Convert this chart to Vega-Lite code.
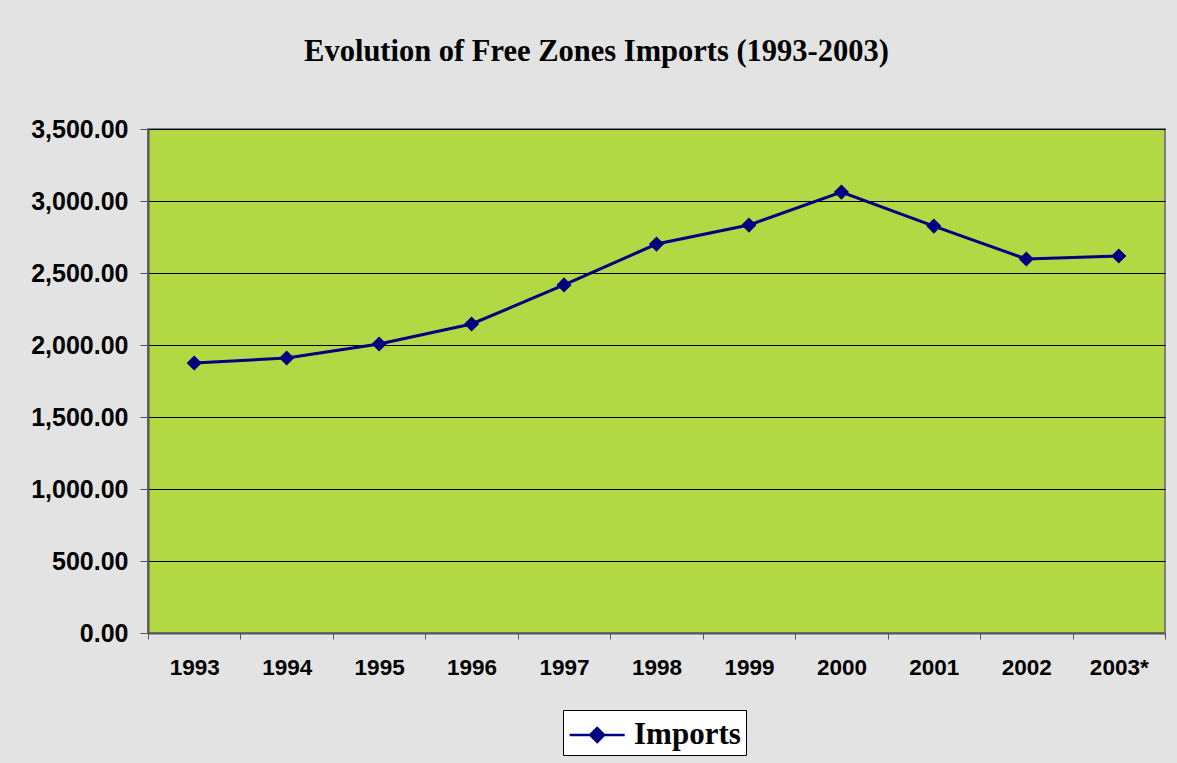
{
  "$schema": "https://vega.github.io/schema/vega-lite/v6.json",
  "autosize": "none",
  "width": 1017,
  "height": 504,
  "padding": {"left": 148, "top": 129, "right": 12, "bottom": 130},
  "background": "#e3e3e3",
  "title": {
    "text": "Evolution of Free Zones Imports (1993-2003)",
    "font": "Liberation Serif",
    "fontSize": 30.5,
    "fontWeight": "bold",
    "color": "#000000",
    "anchor": "middle",
    "dx": -60,
    "offset": 50
  },
  "data": {
    "values": [
      {"year": "1993", "value": 1875, "series": "Imports"},
      {"year": "1994", "value": 1910, "series": "Imports"},
      {"year": "1995", "value": 2007, "series": "Imports"},
      {"year": "1996", "value": 2146, "series": "Imports"},
      {"year": "1997", "value": 2417, "series": "Imports"},
      {"year": "1998", "value": 2701, "series": "Imports"},
      {"year": "1999", "value": 2833, "series": "Imports"},
      {"year": "2000", "value": 3062, "series": "Imports"},
      {"year": "2001", "value": 2826, "series": "Imports"},
      {"year": "2002", "value": 2597, "series": "Imports"},
      {"year": "2003*", "value": 2618, "series": "Imports"}
    ]
  },
  "mark": {
    "type": "line",
    "strokeWidth": 3,
    "point": {"shape": "diamond", "size": 230, "filled": true, "opacity": 1}
  },
  "encoding": {
    "x": {
      "field": "year",
      "type": "ordinal",
      "sort": null,
      "scale": {"paddingInner": 0, "paddingOuter": 0},
      "axis": {
        "title": null,
        "labelAngle": 0,
        "labelFont": "Liberation Sans",
        "labelFontSize": 22.5,
        "labelFontWeight": "bold",
        "labelColor": "#000000",
        "labelPadding": 17,
        "bandPosition": 0,
        "tickBand": "extent",
        "ticks": true,
        "tickSize": 6,
        "tickColor": "#555555",
        "domainColor": "#555555",
        "domainWidth": 2,
        "grid": false
      }
    },
    "y": {
      "field": "value",
      "type": "quantitative",
      "scale": {"domain": [0, 3500], "nice": false},
      "axis": {
        "title": null,
        "values": [0, 500, 1000, 1500, 2000, 2500, 3000, 3500],
        "format": ",.2f",
        "labelFont": "Liberation Sans",
        "labelFontSize": 25,
        "labelFontWeight": "bold",
        "labelColor": "#000000",
        "labelPadding": 12,
        "tickSize": 8,
        "tickColor": "#555555",
        "domainColor": "#555555",
        "domainWidth": 2,
        "grid": true,
        "gridColor": "#000000",
        "gridWidth": 1.2
      }
    },
    "color": {
      "field": "series",
      "type": "nominal",
      "scale": {"range": ["#000080"]},
      "legend": {
        "title": null,
        "orient": "none",
        "legendX": 415,
        "legendY": 581,
        "direction": "horizontal",
        "fillColor": "#ffffff",
        "strokeColor": "#000000",
        "padding": 5,
        "labelFont": "Liberation Serif",
        "labelFontSize": 31,
        "labelFontWeight": "bold",
        "labelColor": "#000000",
        "labelOffset": 26,
        "symbolType": "M-1,0L2,0M0.12,0L0.5,-0.38L0.88,0L0.5,0.38Z",
        "symbolSize": 1344,
        "symbolStrokeWidth": 2.5,
        "symbolFillColor": "#000080",
        "symbolStrokeColor": "#000080",
        "symbolOpacity": 1
      }
    }
  },
  "config": {
    "view": {"fill": "#b2d844", "stroke": "#808080", "strokeWidth": 2}
  }
}
